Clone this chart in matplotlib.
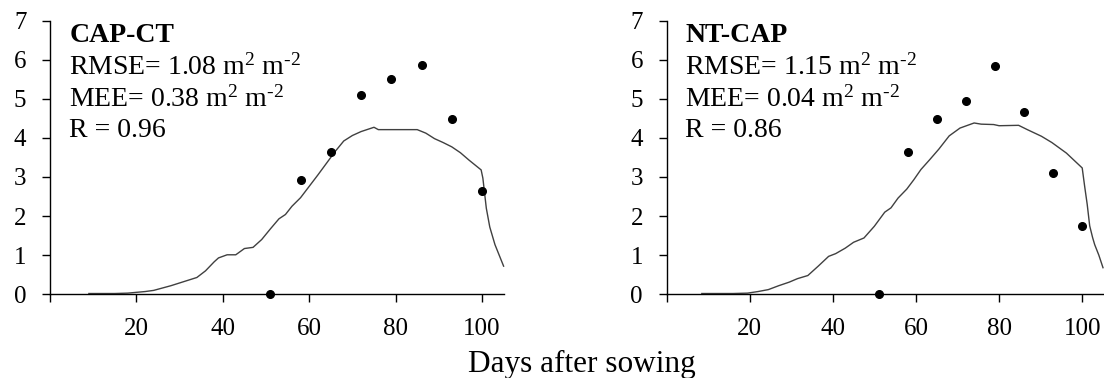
import matplotlib
matplotlib.use("Agg")
import matplotlib.pyplot as plt
from matplotlib.transforms import Bbox, TransformedBbox

plt.rcParams['font.family'] = ['Liberation Serif', 'DejaVu Serif']
plt.rcParams['mathtext.fontset'] = 'custom'
plt.rcParams['mathtext.rm'] = 'Liberation Serif'
plt.rcParams['mathtext.default'] = 'regular'

# ---- data ----
obs_days = [51, 58, 65, 72, 79, 86, 93, 100]

cap_ct_obs = [0.0, 2.93, 3.65, 5.10, 5.50, 5.86, 4.48, 2.64]
cap_ct_sim_days = [9, 12, 15, 18, 20, 22, 24, 26, 28, 30, 32, 34, 36, 38, 39, 41, 43,
                   45, 47, 49, 51, 53, 54.5, 56, 58, 60, 62, 64, 66, 68, 70, 72, 75,
                   76, 80, 85, 87, 89, 91, 93, 95, 97, 99.8, 100.2, 101, 101.8, 103, 105]
cap_ct_sim = [0.02, 0.02, 0.02, 0.03, 0.05, 0.07, 0.10, 0.16, 0.22, 0.29, 0.36, 0.43,
              0.60, 0.83, 0.93, 1.01, 1.01, 1.17, 1.20, 1.40, 1.67, 1.93, 2.04, 2.25,
              2.47, 2.76, 3.05, 3.35, 3.65, 3.92, 4.06, 4.16, 4.27, 4.21, 4.21, 4.21,
              4.12, 3.98, 3.88, 3.77, 3.62, 3.43, 3.18, 2.97, 2.20, 1.72, 1.27, 0.72]

nt_cap_obs = [0.0, 3.63, 4.49, 4.95, 5.83, 4.65, 3.10, 1.75]
nt_cap_sim_days = [8.5, 12, 16, 19.5, 22, 24.5, 27, 29.5, 31.5, 34, 36.5, 39, 40.7, 43,
                   45, 47.5, 50, 52.5, 54, 55.7, 57.8, 59.5, 61.2, 63.3, 65.5, 68, 70.6,
                   74, 75.7, 78.7, 80, 84.7, 86.8, 90.2, 92.7, 96.2, 100, 100.6, 101.2,
                   101.8, 102.5, 103, 104, 105]
nt_cap_sim = [0.02, 0.02, 0.02, 0.03, 0.07, 0.12, 0.22, 0.31, 0.40, 0.48, 0.72, 0.97,
              1.04, 1.18, 1.33, 1.44, 1.74, 2.10, 2.21, 2.46, 2.69, 2.93, 3.19, 3.44,
              3.71, 4.05, 4.25, 4.38, 4.35, 4.34, 4.31, 4.32, 4.21, 4.04, 3.88, 3.61,
              3.23, 2.75, 2.30, 1.75, 1.45, 1.27, 1.00, 0.68]

panels = [
    dict(title="CAP-CT", rmse="1.08", mee="0.38", r="0.96",
         sd=cap_ct_sim_days, sv=cap_ct_sim, ov=cap_ct_obs),
    dict(title="NT-CAP", rmse="1.15", mee="0.04", r="0.86",
         sd=nt_cap_sim_days, sv=nt_cap_sim, ov=nt_cap_obs),
]

x_ticks = [0, 20, 40, 60, 80, 100]
x_ticklabels = ["", "20", "40", "60", "80", "100"]
y_ticks = [0, 1, 2, 3, 4, 5, 6, 7]

W, H = 1104, 378
fig = plt.figure(figsize=(W / 100, H / 100), dpi=100)

rects = [
    [50 / W, (H - 294.3) / H, 453.6 / W, 273.8 / H],
    [666.5 / W, (H - 294.3) / H, 436.5 / W, 273.8 / H],
]

clip_bbox = TransformedBbox(Bbox([[0, (H - 334.5) / H], [1, 1]]), fig.transFigure)
unit = "m$^{2}$ m$^{\u20102}$"

for p, rect in zip(panels, rects):
    ax = fig.add_axes(rect)
    ax.plot(p["sd"], p["sv"], color="#404040", lw=1.0, clip_on=False)
    ax.plot(obs_days, p["ov"], "o", color="black", ms=5.5, clip_on=False)
    ax.set_xlim(0, 105)
    ax.set_ylim(0, 7)
    ax.set_xticks(x_ticks)
    ax.set_xticklabels(x_ticklabels)
    ax.set_yticks(y_ticks)
    for s in ["top", "right"]:
        ax.spines[s].set_visible(False)
    for s in ["left", "bottom"]:
        ax.spines[s].set_linewidth(1.0)
        ax.spines[s].set_color("black")
    ax.tick_params(axis="both", direction="out", length=6, width=1.0,
                   labelsize=18, colors="black")
    ax.tick_params(axis="x", pad=11)
    ax.tick_params(axis="y", pad=11)
    for lab in ax.get_xticklabels():
        lab.set_clip_box(clip_bbox)
        lab.set_clip_on(True)
    tx = 0.0425
    ax.text(tx, 0.922, p["title"], transform=ax.transAxes, fontsize=20,
            fontweight="bold", va="baseline", ha="left")
    ax.text(tx, 0.801, "RMSE= " + p["rmse"] + " " + unit,
            transform=ax.transAxes, fontsize=20, va="baseline", ha="left")
    ax.text(tx, 0.685, "MEE= " + p["mee"] + " " + unit,
            transform=ax.transAxes, fontsize=20, va="baseline", ha="left")
    ax.text(tx, 0.576, "R = " + p["r"], transform=ax.transAxes, fontsize=20,
            va="baseline", ha="left")

fig.text(582 / W, (H - 372) / H, "Days after sowing", fontsize=22.5,
         ha="center", va="baseline")

fig.savefig("out.png", dpi=100)
